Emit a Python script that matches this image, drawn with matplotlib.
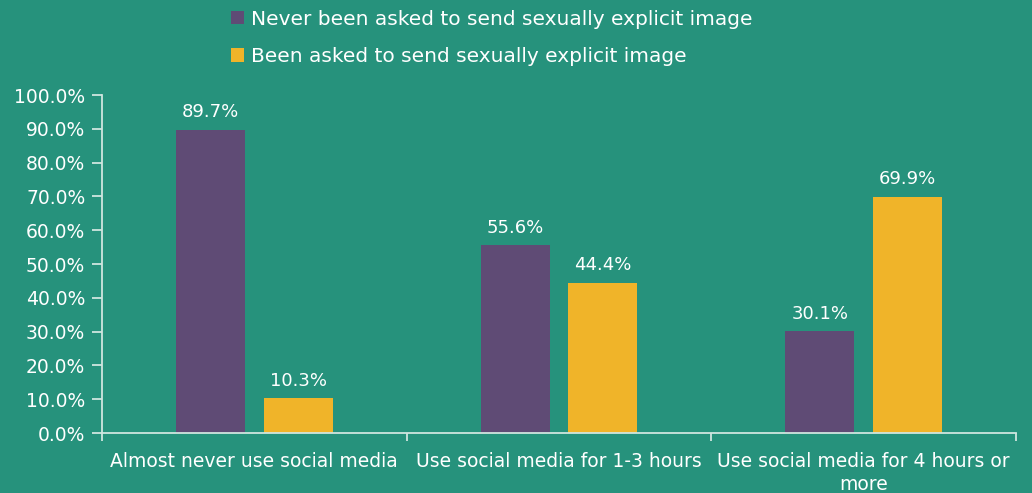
import numpy as np
import matplotlib
matplotlib.use("Agg")
import matplotlib.pyplot as plt
from matplotlib.ticker import FixedLocator, FuncFormatter

plt.rcParams['font.family'] = ['DejaVu Sans']

categories = ["Almost never use social media", "Use social media for 1-3 hours",
              "Use social media for 4 hours or\nmore"]
never_asked = [89.7, 55.6, 30.1]
been_asked = [10.3, 44.4, 69.9]
series_names = ["Never been asked to send sexually explicit image",
                "Been asked to send sexually explicit image"]

bg = '#26927c'
purple = '#5f4b75'
yellow = '#f0b429'
fg = '#ffffff'
axis_col = '#cfe6df'

fig = plt.figure(figsize=(10.32, 4.93), dpi=100, facecolor=bg)
ax = fig.add_axes([0.0988, 0.1217, 0.8857, 0.6856], facecolor=bg)

x = np.arange(len(categories))
w = 0.226
off = 0.144
b1 = ax.bar(x - off, never_asked, w, color=purple, label=series_names[0])
b2 = ax.bar(x + off, been_asked, w, color=yellow, label=series_names[1])

# value labels above bars
for bars in (b1, b2):
    for r in bars:
        h = r.get_height()
        ax.text(r.get_x() + r.get_width() / 2, h + 2.5, f"{h:.1f}%",
                ha='center', va='bottom', color=fg, fontsize=13)

ax.set_xlim(-0.5, 2.5)
ax.set_ylim(0, 100)
ax.set_yticks(np.arange(0, 101, 10))
ax.yaxis.set_major_formatter(FuncFormatter(lambda v, p: f"{v:.1f}%"))
ax.set_xticks(x)
ax.set_xticklabels(categories, linespacing=1.25)
ax.xaxis.set_minor_locator(FixedLocator([-0.5, 0.5, 1.5, 2.5]))
ax.tick_params(axis='x', which='major', length=0, pad=14, labelsize=13.5, colors=fg)
ax.tick_params(axis='x', which='minor', length=6, width=1.3, color=axis_col, direction='out')
ax.tick_params(axis='y', length=7, width=1.3, color=axis_col, labelsize=13.5, labelcolor=fg, pad=5)

for s in ('top', 'right'):
    ax.spines[s].set_visible(False)
for s in ('left', 'bottom'):
    ax.spines[s].set_color(axis_col)
    ax.spines[s].set_linewidth(1.3)

leg = fig.legend(handles=[b1, b2], loc='upper left', bbox_to_anchor=(0.206, 1.017),
                 frameon=False, fontsize=14.5, labelcolor=fg, handlelength=0.65,
                 handleheight=0.65, handletextpad=0.35, labelspacing=0.9)

fig.savefig("out.png", dpi=100, facecolor=bg)
